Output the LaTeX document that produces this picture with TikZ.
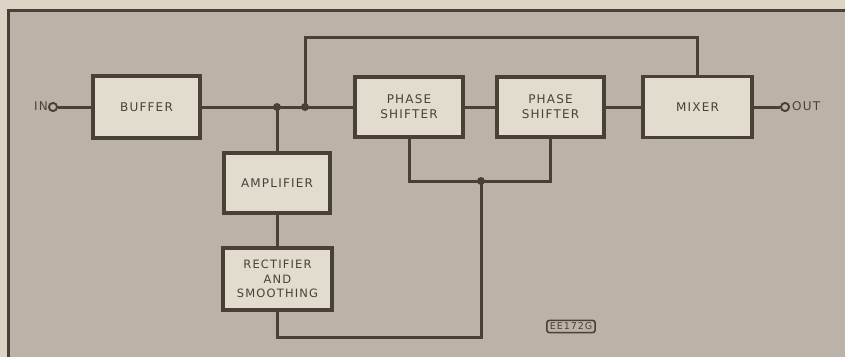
\documentclass[tikz,border=0pt]{standalone}
\usepackage{fontspec}
\setmainfont{DejaVu Sans}[LetterSpace=10]
\definecolor{paper}{RGB}{222,212,198}
\definecolor{bgc}{RGB}{187,178,168}
\definecolor{boxfill}{RGB}{226,220,207}
\definecolor{ink}{RGB}{74,64,56}
\tikzset{
  blk/.style={draw=ink, line width=3.4pt, fill=boxfill, inner sep=0pt, align=center,
    font=\fontsize{12}{15}\selectfont, text=ink},
  wire/.style={draw=ink, line width=3pt},
  dotj/.style={circle, fill=ink, inner sep=0pt, minimum size=8pt},
  term/.style={circle, draw=ink, line width=1.8pt, fill=bgc, inner sep=0pt, minimum size=8pt},
  lbl/.style={font=\fontsize{12}{15}\selectfont, text=ink, inner sep=0pt}
}
\begin{document}
\begin{tikzpicture}[x=1pt,y=-1pt]
\useasboundingbox (0,0) rectangle (845,357);
\fill[paper] (0,0) rectangle (845,357);
\fill[bgc] (8,10) rectangle (845,357);
\draw[ink, line width=3pt] (8,357) -- (8,10) -- (845,10);

\node[blk, minimum width=107pt, minimum height=62pt] (buffer) at (146.5,107) {BUFFER};
\node[blk, minimum width=108pt, minimum height=60pt] (ps1) at (409,107) {PHASE\\SHIFTER};
\node[blk, minimum width=107pt, minimum height=60pt] (ps2) at (550.5,107) {PHASE\\SHIFTER};
\node[blk, minimum width=109pt, minimum height=61pt] (mixer) at (697.5,107) {MIXER};
\node[blk, minimum width=106pt, minimum height=60pt] (amp) at (277,183) {AMPLIFIER};
\node[blk, minimum width=109pt, minimum height=62pt, font=\fontsize{11.5}{14.3}\selectfont] (rect) at (277.5,279) {RECTIFIER\\AND\\SMOOTHING};

\node[term] (in) at (53,107) {};
\node[term] (out) at (785,107) {};
\node[lbl, anchor=east] (inl) at (48,106) {IN};
\node[lbl, anchor=west] (outl) at (792,106) {OUT};

\coordinate (j1) at (277,107);
\coordinate (j2) at (305,107);
\coordinate (j3) at (481,181);
\coordinate (t1) at (305,37);
\coordinate (t2) at (697.5,37);
\coordinate (b1) at (277,337);
\coordinate (b2) at (481,337);

\draw[wire] (in) -- (buffer.west);
\draw[wire] (buffer.east) -- (ps1.west);
\draw[wire] (ps1.east) -- (ps2.west);
\draw[wire] (ps2.east) -- (mixer.west);
\draw[wire] (mixer.east) -- (out);
\draw[wire] (j1) -- (amp.north);
\draw[wire] (amp.south) -- (rect.north -| amp.south);
\draw[wire] (j2) -- (t1) -- (t2) -- (mixer.north);
\draw[wire] (ps1.south) |- (j3) -| (ps2.south);
\draw[wire] (rect.south -| b1) -- (b1) -- (b2) -- (j3);

\node[dotj] (d1) at (j1) {};
\node[dotj] (d2) at (j2) {};
\node[dotj] (d3) at (j3) {};
\node[term] at (in) {};
\node[term] at (out) {};

\node[draw=ink, line width=1.6pt, rounded corners=2.5pt, inner xsep=3pt, inner ysep=2.5pt,
  font=\fontsize{9.5}{11}\selectfont, text=ink] (code) at (571,326.5) {EE172G};
\end{tikzpicture}
\end{document}
